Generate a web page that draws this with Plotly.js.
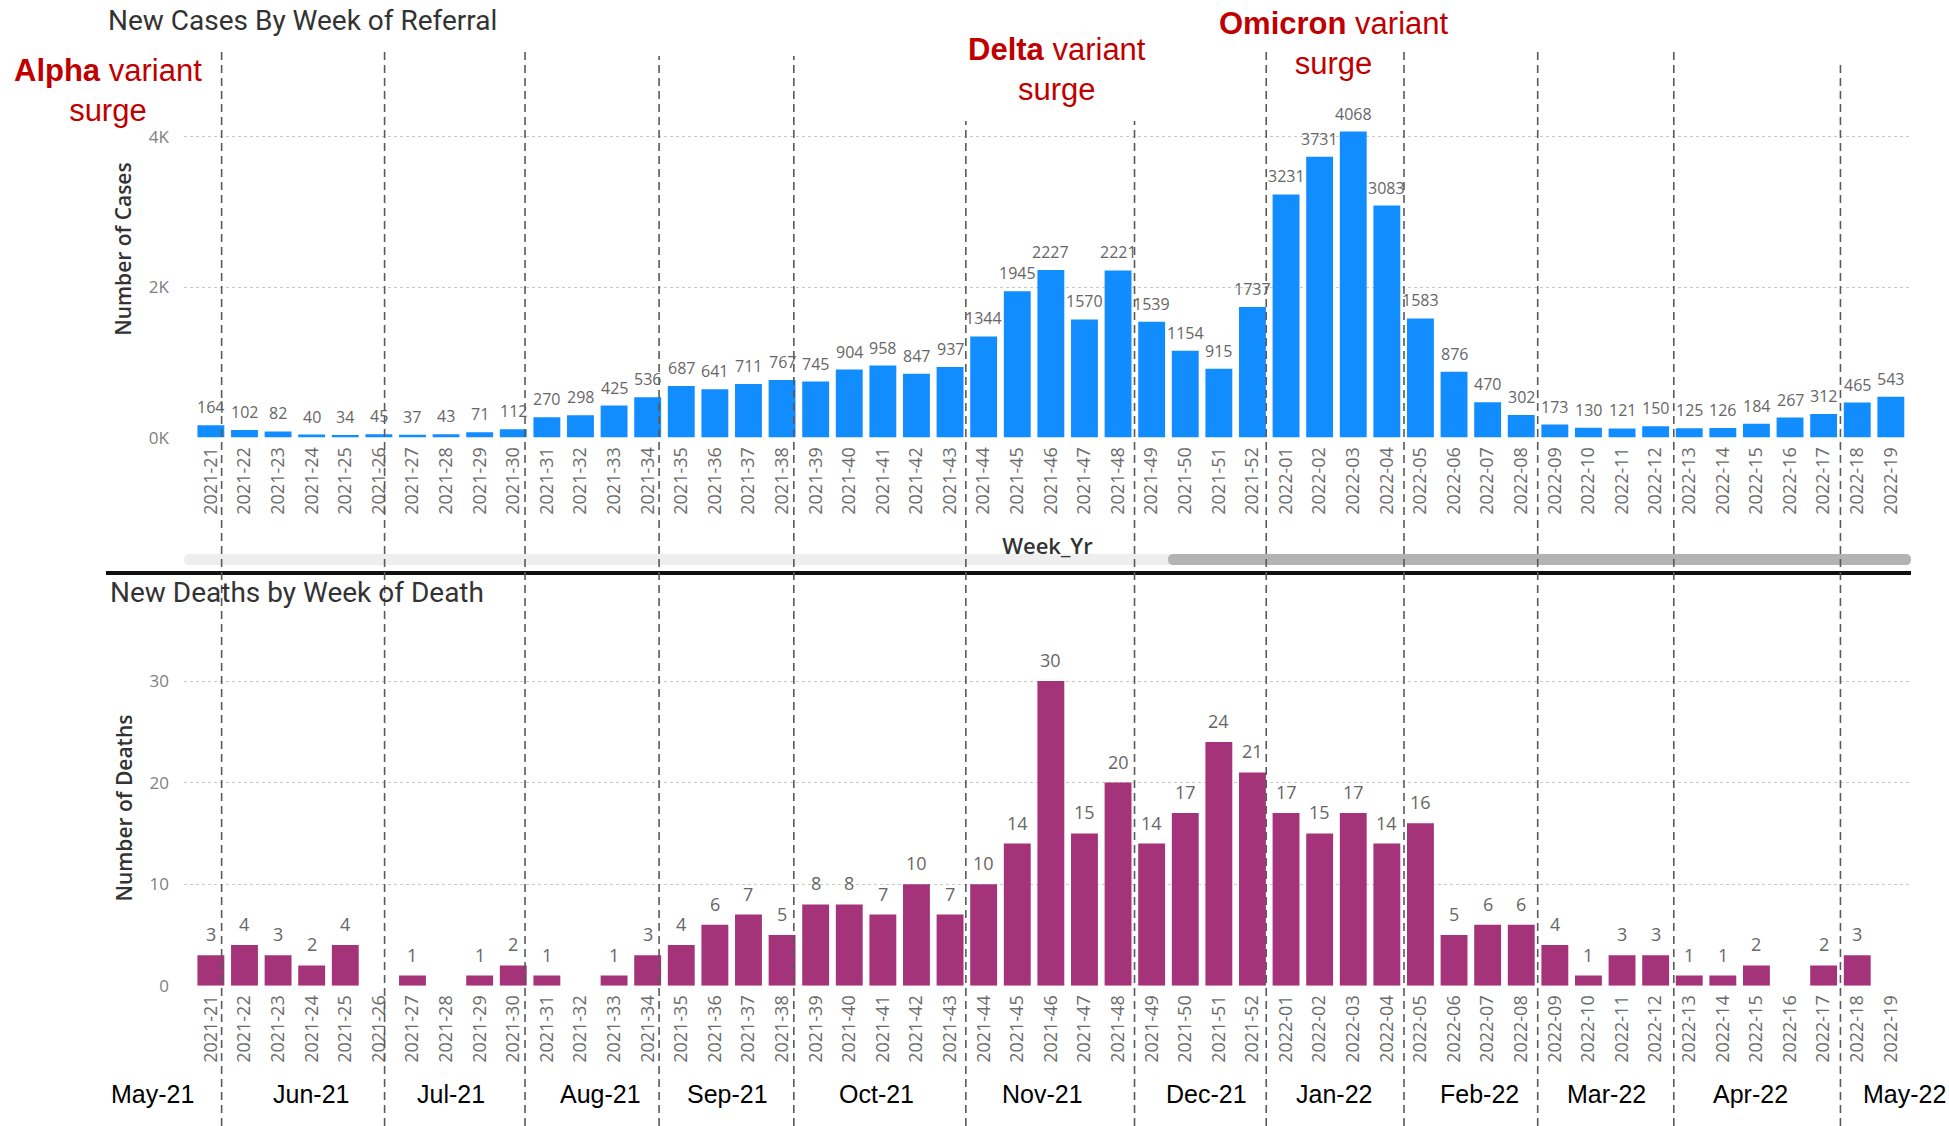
<!DOCTYPE html>
<html><head><meta charset="utf-8">
<script src="https://cdn.plot.ly/plotly-3.0.1.min.js"></script>
<style>html,body{margin:0;padding:0;background:#fff;} #chart{width:1949px;height:1126px;}</style>
</head><body><div id="chart"></div>
<script>
// ---------- data ----------
const weeks = ['2021-21','2021-22','2021-23','2021-24','2021-25','2021-26','2021-27','2021-28','2021-29','2021-30',
  '2021-31','2021-32','2021-33','2021-34','2021-35','2021-36','2021-37','2021-38','2021-39','2021-40',
  '2021-41','2021-42','2021-43','2021-44','2021-45','2021-46','2021-47','2021-48','2021-49','2021-50',
  '2021-51','2021-52','2022-01','2022-02','2022-03','2022-04','2022-05','2022-06','2022-07','2022-08',
  '2022-09','2022-10','2022-11','2022-12','2022-13','2022-14','2022-15','2022-16','2022-17','2022-18','2022-19'];
const cases = [164,102,82,40,34,45,37,43,71,112,
  270,298,425,536,687,641,711,767,745,904,
  958,847,937,1344,1945,2227,1570,2221,1539,1154,
  915,1737,3231,3731,4068,3083,1583,876,470,302,
  173,130,121,150,125,126,184,267,312,465,543];
const deaths = [3,4,3,2,4,0,1,0,1,2,
  1,0,1,3,4,6,7,5,8,8,
  7,10,7,10,14,30,15,20,14,17,
  24,21,17,15,17,14,16,5,6,6,
  4,1,3,3,1,1,2,0,2,3,0];
const caseTickVals = [0,2000,4000];
const caseTickText = ['0K','2K','4K'];
const deathTickVals = [0,10,20,30];
const monthLabels = ['May-21','Jun-21','Jul-21','Aug-21','Sep-21','Oct-21','Nov-21','Dec-21','Jan-22','Feb-22','Mar-22','Apr-22','May-22'];
const surgeNotes = ['<b>Alpha</b> variant<br>surge','<b>Delta</b> variant<br>surge','<b>Omicron</b> variant<br>surge'];

// ---------- layout helpers (positions only) ----------
const W = 1949, H = 1126;
const px = x => x / W, py = y => 1 - y / H;
const monthPx = [152, 311, 451, 600, 727, 876, 1042, 1206, 1334, 1479, 1606, 1750, 1904];
const boundaryPos = [0.32, 5.17, 9.35, 13.34, 17.35, 22.47, 27.49, 31.41, 35.51, 39.49, 43.54, 48.5];
const boundaryTop = [52, 50, 52, 56, 56, 121, 121, 52, 52, 52, 52, 62];
const notePos = [[108, 91], [1057, 70], [1334, 44]];

const tickFont = {family: 'Open Sans, sans-serif', size: 18, color: '#6a6a6a'};
const ytickFont = {family: 'Open Sans, sans-serif', size: 17, color: '#808080'};
const titleFont = {family: 'Roboto, sans-serif', size: 28, color: '#333', weight: 400};
const axTitleFont = {family: 'Open Sans, sans-serif', size: 21, color: '#333', weight: 600};
const redFont = {family: 'Liberation Sans, Arial, sans-serif', size: 31, color: '#C00000'};
const monthFont = {family: 'Liberation Sans, Arial, sans-serif', size: 25, color: '#000'};

const traces = [
  {type: 'bar', x: weeks, y: cases, xaxis: 'x', yaxis: 'y',
   marker: {color: '#118DFF', line: {width: 0}}, hoverinfo: 'x+y'},
  {type: 'bar', x: weeks, y: deaths, xaxis: 'x2', yaxis: 'y2',
   marker: {color: '#A43379', line: {width: 0}}, hoverinfo: 'x+y'}
];

const xDomain = [px(184), px(1911)];
const xRange = [-0.8, 50.6];

// rounded horizontal bar (pill) as an SVG path in paper coordinates
function pill(x0, x1, yTop, yBot) {
  const r = (yBot - yTop) / 2, ym = (yTop + yBot) / 2;
  const P = (x, y) => px(x) + ',' + py(y);
  return 'M' + P(x0 + r, yTop) + ' L' + P(x1 - r, yTop) + ' Q' + P(x1, yTop) + ' ' + P(x1, ym) +
    ' Q' + P(x1, yBot) + ' ' + P(x1 - r, yBot) + ' L' + P(x0 + r, yBot) + ' Q' + P(x0, yBot) + ' ' + P(x0, ym) +
    ' Q' + P(x0, yTop) + ' ' + P(x0 + r, yTop) + ' Z';
}

const shapes = [];
boundaryPos.forEach((p, i) => {
  shapes.push({type: 'line', xref: 'x', yref: 'paper', x0: p, x1: p, y0: 0, y1: py(boundaryTop[i]),
    line: {color: '#5a5a5a', width: 1.6, dash: '8px,5px'}, layer: 'above'});
});
// scrollbar track and thumb
shapes.push({type: 'path', xref: 'paper', yref: 'paper', path: pill(184, 1911, 554, 565),
  fillcolor: '#eeeeee', line: {width: 0}, layer: 'below'});
shapes.push({type: 'path', xref: 'paper', yref: 'paper', path: pill(1168, 1911, 554, 565),
  fillcolor: '#b3b3b3', line: {width: 0}, layer: 'below'});
// divider
shapes.push({type: 'line', xref: 'paper', yref: 'paper', x0: px(106), x1: px(1911), y0: py(573), y1: py(573),
  line: {color: '#111', width: 4}, layer: 'below'});

const annotations = [];
// value labels above the bars, positioned through the axes
weeks.forEach((w, i) => {
  if (cases[i] > 0) annotations.push({xref: 'x', yref: 'y', x: w, y: cases[i], yanchor: 'bottom', yshift: 5,
    text: String(cases[i]), showarrow: false, font: {family: 'Open Sans, sans-serif', size: 16, color: '#666'}});
  if (deaths[i] > 0) annotations.push({xref: 'x2', yref: 'y2', x: w, y: deaths[i], yanchor: 'bottom', yshift: 7,
    text: String(deaths[i]), showarrow: false, font: {family: 'Open Sans, sans-serif', size: 18, color: '#666'}});
});
annotations.push({xref: 'paper', yref: 'paper', x: px(108), y: py(592), xanchor: 'left', yanchor: 'middle',
  text: 'New Deaths by Week of Death', showarrow: false, font: titleFont});
monthLabels.forEach((m, i) => {
  annotations.push({xref: 'paper', yref: 'paper', x: px(monthPx[i]), y: py(1094), xanchor: 'center', yanchor: 'middle',
    text: m, showarrow: false, font: monthFont});
});
surgeNotes.forEach((t, i) => {
  annotations.push({xref: 'paper', yref: 'paper', x: px(notePos[i][0]), y: py(notePos[i][1]),
    xanchor: 'center', yanchor: 'middle', align: 'center', text: t, showarrow: false, font: redFont});
});

const layout = {
  width: W, height: H, margin: {l: 0, r: 0, t: 0, b: 0},
  paper_bgcolor: '#fff', plot_bgcolor: 'rgba(0,0,0,0)',
  showlegend: false, bargap: 0.2,
  font: {family: 'Open Sans, sans-serif'},
  title: {text: 'New Cases By Week of Referral', x: px(108), xanchor: 'left', xref: 'paper',
    y: py(20), yanchor: 'middle', yref: 'container', font: titleFont},
  xaxis: {domain: xDomain, range: xRange, type: 'category', anchor: 'y', tickangle: -90,
    tickfont: tickFont, showgrid: false, zeroline: false, showline: false, ticks: '', automargin: false,
    ticklabelstandoff: 5,
    title: {text: 'Week_Yr', standoff: 24, font: {family: 'Open Sans, sans-serif', size: 22, color: '#333', weight: 600}}},
  yaxis: {domain: [py(437.6), py(60.4)], range: [0, 5013], tickvals: caseTickVals, ticktext: caseTickText,
    tickfont: ytickFont, showgrid: true, gridcolor: '#c8c8c8', griddash: 'dot', gridwidth: 1.2,
    zeroline: false, ticks: '', ticklabelstandoff: 14, automargin: false,
    title: {text: 'Number of Cases', standoff: 11, font: axTitleFont}},
  xaxis2: {domain: xDomain, range: xRange, type: 'category', anchor: 'y2', tickangle: -90,
    tickfont: tickFont, showgrid: false, zeroline: false, showline: false, ticks: '', automargin: false,
    ticklabelstandoff: 5},
  yaxis2: {domain: [py(985.7), py(630.3)], range: [0, 35], tickvals: deathTickVals,
    tickfont: ytickFont, showgrid: true, gridcolor: '#c8c8c8', griddash: 'dot', gridwidth: 1.2,
    zeroline: false, ticks: '', ticklabelstandoff: 14, automargin: false,
    title: {text: 'Number of Deaths', standoff: 11, font: axTitleFont}},
  shapes: shapes, annotations: annotations
};

Plotly.newPlot('chart', traces, layout, {displayModeBar: false, responsive: false});
</script></body></html>
